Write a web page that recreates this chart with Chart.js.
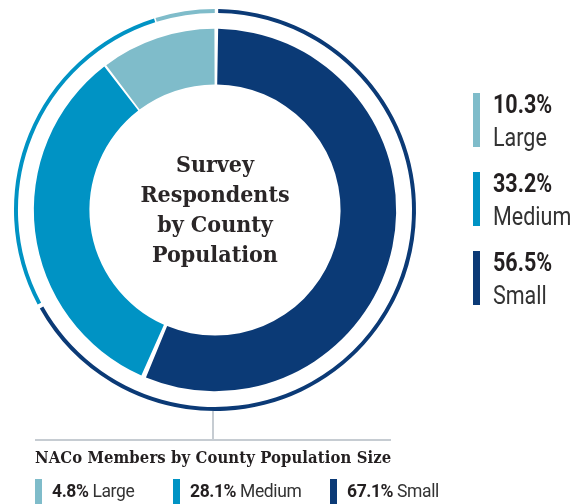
<!DOCTYPE html>
<html>
<head>
<meta charset="utf-8">
<script src="https://cdn.jsdelivr.net/npm/chart.js@4"></script>
<style>
  html, body { margin: 0; padding: 0; background: #fff; }
  #wrap { position: relative; width: 581px; height: 504px; overflow: hidden; }
  #chart { position: absolute; left: 0; top: 0; }
  .center {
    position: absolute; left: 115px; top: 149px; width: 200px;
    text-align: center; font-family: "DejaVu Serif", serif; font-weight: bold;
    font-stretch: condensed; font-size: 23px; line-height: 30px; color: #2a2627;
  }
  .side { position: absolute; left: 473px; top: 93px; }
  .side .item { position: relative; height: 54px; margin-bottom: 25px; }
  .swatch { position: absolute; left: 0; top: 0; width: 7px; height: 54px; }
  .side .txt {
    position: absolute; left: 20px; top: -3px; font-family: Roboto, sans-serif;
    transform: scaleX(0.86); transform-origin: left top; white-space: nowrap;
  }
  .side .pct { font-weight: bold; font-size: 25px; line-height: 30px; color: #231f20; }
  .side .lbl { font-size: 25px; line-height: 36px; color: #333; }
  .stem { position: absolute; left: 212px; top: 411px; width: 2px; height: 29px; background: #c6ccd2; }
  .rule { position: absolute; left: 35px; top: 439px; width: 356px; height: 2px; background: #c6ccd2; }
  .btitle {
    position: absolute; left: 35px; top: 448px; font-family: "DejaVu Serif", serif;
    font-weight: bold; font-stretch: condensed; font-size: 16.5px; letter-spacing: 0.1px;
    color: #231f20; white-space: nowrap;
  }
  .bottom .item { position: absolute; top: 479px; padding-left: 17px; height: 26px; }
  .bottom .item:nth-child(1) { left: 35px; }
  .bottom .item:nth-child(2) { left: 173px; }
  .bottom .item:nth-child(3) { left: 330px; }
  .bottom .swatch { height: 26px; }
  .bottom .txt {
    font-family: Roboto, sans-serif; font-size: 17.5px; line-height: 25px; color: #333;
    letter-spacing: -0.4px; white-space: nowrap; display: inline-block;
  }
  .bottom b { color: #231f20; }
</style>
</head>
<body>
<div id="wrap">
  <canvas id="chart" width="581" height="504"></canvas>
  <div class="center">Survey<br>Respondents<br>by County<br>Population</div>
  <div class="side" id="side"></div>
  <div class="stem"></div>
  <div class="rule"></div>
  <div class="btitle">NACo Members by County Population Size</div>
  <div class="bottom" id="bottom"></div>
</div>
<script>
'use strict';

// county size groups
const categories = ['Large', 'Medium', 'Small'];
// survey respondents (inner ring), percent
const respondentShares = [10.3, 33.2, 56.5];
// NACo members (thin outer ring), percent
const memberShares = [4.8, 28.1, 67.1];

const colors = ['#7fbcca', '#0093c4', '#0b3a76'];

// rings run clockwise from 12 o'clock starting with Small
const rev = arr => arr.slice().reverse();

const ctx = document.getElementById('chart');

new Chart(ctx, {
  type: 'doughnut',
  data: {
    labels: rev(categories),
    datasets: [
      {
        label: 'NACo Members',
        data: rev(memberShares),
        backgroundColor: rev(colors),
        borderWidth: 0,
        spacing: 3,
        weight: 4
      },
      {
        // empty band between the two rings
        label: 'gap',
        data: [1],
        backgroundColor: 'rgba(0,0,0,0)',
        borderWidth: 0,
        spacing: 3,
        weight: 16
      },
      {
        label: 'Survey Respondents',
        data: rev(respondentShares),
        backgroundColor: rev(colors),
        borderWidth: 0,
        spacing: 3,
        weight: 56
      }
    ]
  },
  options: {
    responsive: false,
    animation: false,
    events: [],
    cutout: '62.2%',
    layout: {
      padding: { left: 14, top: 9, right: 165, bottom: 93 }
    },
    plugins: {
      legend: { display: false },
      tooltip: { enabled: false }
    }
  }
});

// side legend for the survey ring
const side = document.getElementById('side');
categories.forEach((name, i) => {
  const item = document.createElement('div');
  item.className = 'item';
  item.innerHTML =
    '<div class="swatch" style="background:' + colors[i] + '"></div>' +
    '<div class="txt"><div class="pct">' + respondentShares[i].toFixed(1) + '%</div>' +
    '<div class="lbl">' + name + '</div></div>';
  side.appendChild(item);
});

// bottom legend for the member ring
const bottom = document.getElementById('bottom');
categories.forEach((name, i) => {
  const item = document.createElement('div');
  item.className = 'item';
  item.innerHTML =
    '<div class="swatch" style="background:' + colors[i] + '"></div>' +
    '<span class="txt"><b>' + memberShares[i].toFixed(1) + '%</b> ' + name + '</span>';
  bottom.appendChild(item);
});
</script>
</body>
</html>
